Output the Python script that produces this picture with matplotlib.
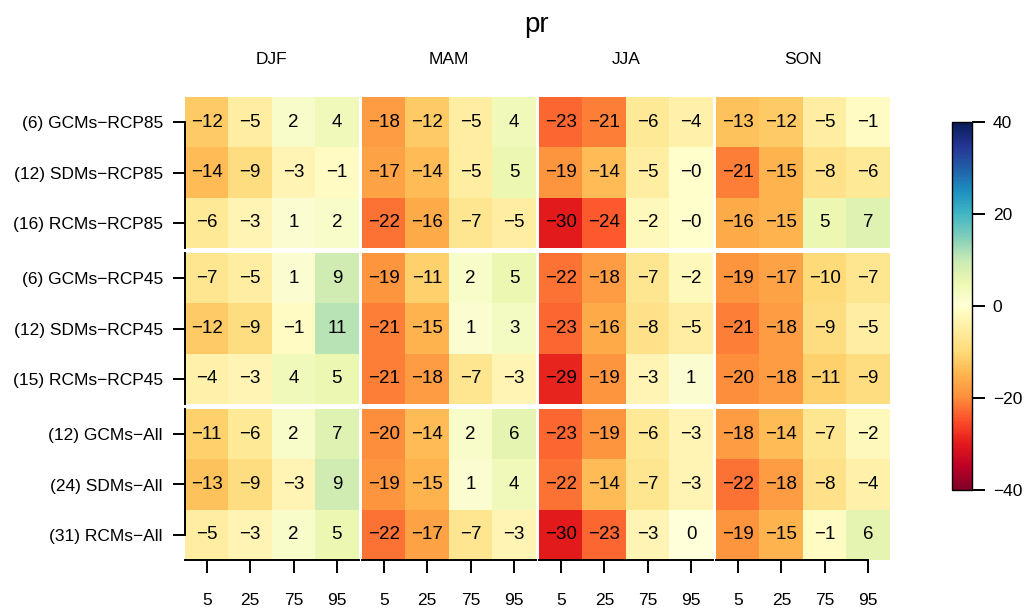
import numpy as np
import matplotlib
matplotlib.use('Agg')
import matplotlib.pyplot as plt
from matplotlib.colors import ListedColormap, Normalize

plt.rcParams['font.family'] = ['Liberation Sans', 'DejaVu Sans']

# percent change in precipitation, rows = ensembles, cols = percentiles
seasons = ['DJF', 'MAM', 'JJA', 'SON']
percentiles = ['5', '25', '75', '95']
row_labels = ['(6) GCMs\u2212RCP85', '(12) SDMs\u2212RCP85', '(16) RCMs\u2212RCP85',
              '(6) GCMs\u2212RCP45', '(12) SDMs\u2212RCP45', '(15) RCMs\u2212RCP45',
              '(12) GCMs\u2212All', '(24) SDMs\u2212All', '(31) RCMs\u2212All']

djf = [[-12, -5, 2, 4], [-14, -9, -3, -1], [-6, -3, 1, 2],
       [-7, -5, 1, 9], [-12, -9, -1, 11], [-4, -3, 4, 5],
       [-11, -6, 2, 7], [-13, -9, -3, 9], [-5, -3, 2, 5]]
mam = [[-18, -12, -5, 4], [-17, -14, -5, 5], [-22, -16, -7, -5],
       [-19, -11, 2, 5], [-21, -15, 1, 3], [-21, -18, -7, -3],
       [-20, -14, 2, 6], [-19, -15, 1, 4], [-22, -17, -7, -3]]
jja = [[-23, -21, -6, -4], [-19, -14, -5, -0.3], [-30, -24, -2, -0.3],
       [-22, -18, -7, -2], [-23, -16, -8, -5], [-29, -19, -3, 1],
       [-23, -19, -6, -3], [-22, -14, -7, -3], [-30, -23, -3, 0]]
son = [[-13, -12, -5, -1], [-21, -15, -8, -6], [-16, -15, 5, 7],
       [-19, -17, -10, -7], [-21, -18, -9, -5], [-20, -18, -11, -9],
       [-18, -14, -7, -2], [-22, -18, -8, -4], [-19, -15, -1, 6]]

# red-yellow for drying, yellow-green-blue for wetting
cols = np.vstack([plt.cm.YlOrRd_r(np.linspace(0, 1, 128)),
                  plt.cm.YlGnBu(np.linspace(0, 1, 128))])
cmap = ListedColormap(cols)
norm = Normalize(-40, 40)

W, H = 1026, 608
fig = plt.figure(figsize=(W / 100, H / 100), dpi=100)

left, right, top, bottom = 185, 890, 97, 560
gx, gy = 3.5, 5
cw = (right - left - 3 * gx) / 4
ch = (bottom - top - 2 * gy) / 3

data = [np.array(d, dtype=float) for d in (djf, mam, jja, son)]
fs = 12.5

for j in range(4):
    for i in range(3):
        x0 = left + j * (cw + gx)
        y0 = top + i * (ch + gy)
        ax = fig.add_axes([x0 / W, 1 - (y0 + ch) / H, cw / W, ch / H])
        block = data[j][i * 3:(i + 1) * 3]
        ax.imshow(block, cmap=cmap, norm=norm, aspect='auto')
        for r in range(3):
            for c in range(4):
                txt = '%.0f' % block[r, c]
                ax.text(c, r, txt.replace('-', '\u2212'), ha='center', va='center',
                        fontsize=13.5, color='black')
        for s in ax.spines.values():
            s.set_visible(False)
        ax.set_xticks([])
        ax.set_yticks([])
        if j == 0:
            ax.spines['left'].set_visible(True)
            ax.spines['left'].set_linewidth(1.4)
            ax.set_yticks(range(3))
            ax.set_yticklabels(row_labels[i * 3:(i + 1) * 3], fontsize=fs)
            ax.tick_params(axis='y', length=9, width=1.4, pad=7)
            if i == 0:
                ax.spines['left'].set_bounds(0, 2.5)
            elif i == 2:
                ax.spines['left'].set_bounds(-0.5, 2)
        if i == 2:
            ax.spines['bottom'].set_visible(True)
            ax.spines['bottom'].set_linewidth(1.4)
            ax.set_xticks(range(4))
            ax.set_xticklabels(percentiles, fontsize=fs)
            ax.tick_params(axis='x', length=9, width=1.4, pad=15)
            if j == 3:
                ax.spines['bottom'].set_bounds(-0.5, 3)
        if i == 0:
            ax.set_title(seasons[j], fontsize=fs, pad=24)

fig.text(537 / W, 1 - 25 / H, 'pr', ha='center', va='center', fontsize=20)

cax = fig.add_axes([952 / W, 1 - 490 / H, 20 / W, 368 / H])
sm = plt.cm.ScalarMappable(norm=norm, cmap=cmap)
cb = fig.colorbar(sm, cax=cax, ticks=[-40, -20, 0, 20, 40])
cb.ax.set_yticklabels(['\u221240', '\u221220', '0', '20', '40'])
cb.ax.tick_params(length=9, width=1.4, labelsize=fs, pad=6)
cb.outline.set_linewidth(1.0)

fig.savefig('out.png', dpi=100)
